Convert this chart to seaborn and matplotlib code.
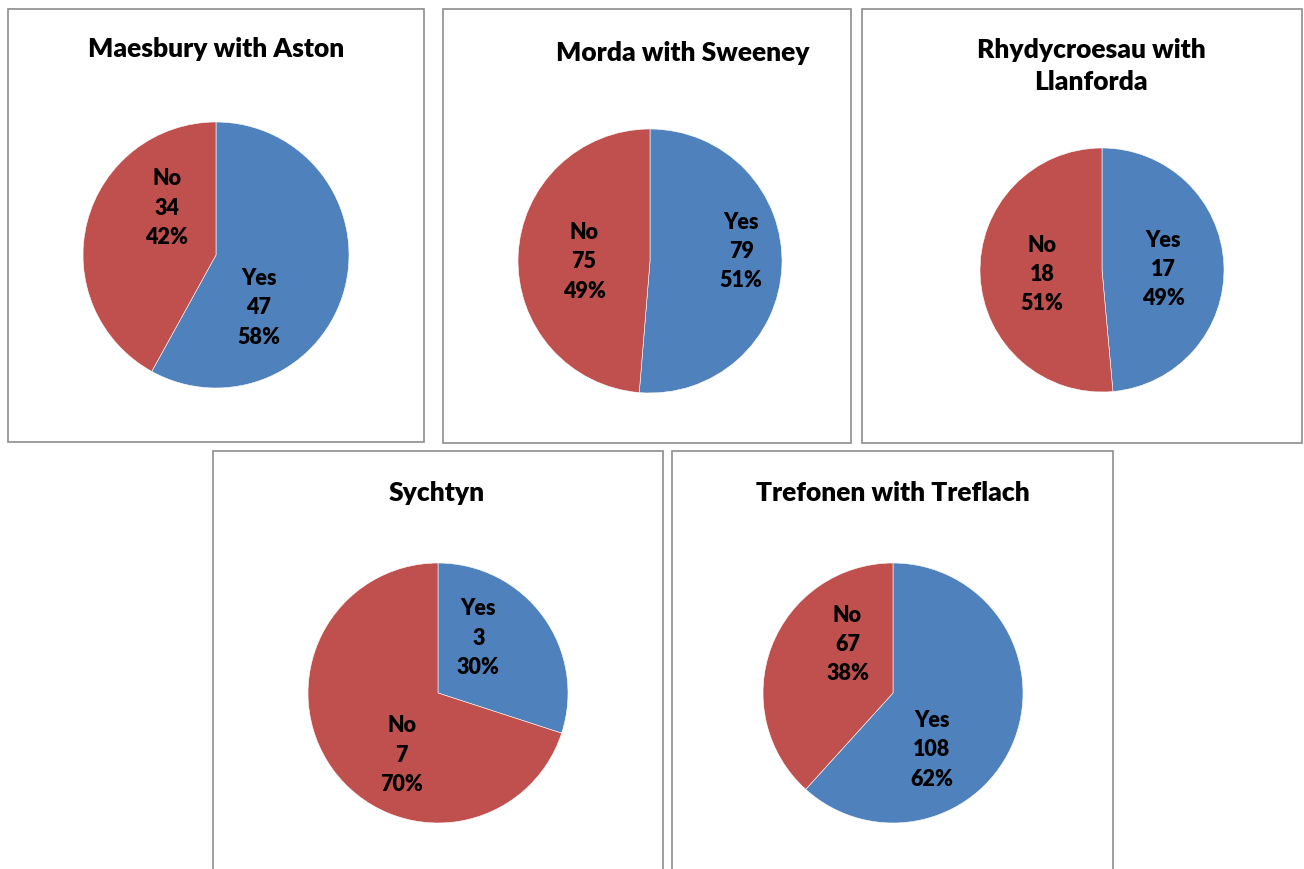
import matplotlib
matplotlib.use("Agg")
import matplotlib.pyplot as plt
import seaborn as sns
from matplotlib.patches import Rectangle

# Survey answers per parish
parishes = ["Maesbury with Aston", "Morda with Sweeney", "Rhydycroesau with\nLlanforda",
            "Sychtyn", "Trefonen with Treflach"]
answers = ["Yes", "No"]
yes_counts = [47, 79, 17, 3, 108]
no_counts = [34, 75, 18, 7, 67]

sns.set_theme(style="white")
plt.rcParams["font.family"] = ["Lato", "DejaVu Sans"]
colors = sns.color_palette(["#4F81BD", "#C0504D"])

W, H = 1304, 870
fig = plt.figure(figsize=(W / 100, H / 100), dpi=100)

# layout in pixels: panel box, pie centre + radius, title centre
boxes = [(8, 10, 424, 443), (443, 10, 851, 444), (862, 10, 1302, 444),
         (213, 452, 663, 880), (672, 452, 1113, 880)]
pies = [(216, 256, 133), (650, 262, 132), (1102, 271, 122),
        (438, 694, 130), (893, 694, 130)]
titles = [(216, 49), (683, 53), (1091, 66), (437, 493), (893, 493)]
# Excel-style "best fit" label spots, as fractions of the radius (Yes, No)
label_spots = [[(0.32, -0.39), (-0.37, 0.36)],
               [(0.69, 0.08), (-0.50, 0.0)],
               [(0.50, 0.01), (-0.49, -0.03)],
               [(0.31, 0.43), (-0.28, -0.47)],
               [(0.30, -0.43), (-0.35, 0.38)]]

for i, name in enumerate(parishes):
    x0, y0, x1, y1 = boxes[i]
    fig.patches.append(Rectangle((x0 / W, 1 - y1 / H), (x1 - x0) / W, (y1 - y0) / H,
                                 transform=fig.transFigure, fill=False,
                                 edgecolor="#8c8c8c", linewidth=1.2, zorder=0))
    tx, ty = titles[i]
    fig.text(tx / W, 1 - ty / H, name, ha="center", va="center",
             fontsize=19, fontweight="heavy", color="black", linespacing=1.42)

    cx, cy, r = pies[i]
    ax = fig.add_axes([(cx - r) / W, 1 - (cy + r) / H, 2 * r / W, 2 * r / H])
    vals = [yes_counts[i], no_counts[i]]
    total = sum(vals)
    labels = iter([f"{a}\n{v}\n{round(100 * v / total)}%" for a, v in zip(answers, vals)])
    wedges, texts, autotexts = ax.pie(vals, colors=colors, startangle=90, counterclock=False,
                                      autopct=lambda p: next(labels), pctdistance=0.52,
                                      wedgeprops=dict(edgecolor="white", linewidth=0.4),
                                      textprops=dict(fontsize=15.5, fontweight="heavy",
                                                     color="black", linespacing=1.48))
    for t, spot in zip(autotexts, label_spots[i]):
        t.set_position(spot)
        t.set_ha("center")
        t.set_va("center")
    ax.set_xlim(-1, 1)
    ax.set_ylim(-1, 1)
    ax.axis("off")

fig.savefig("out.png", dpi=100)
